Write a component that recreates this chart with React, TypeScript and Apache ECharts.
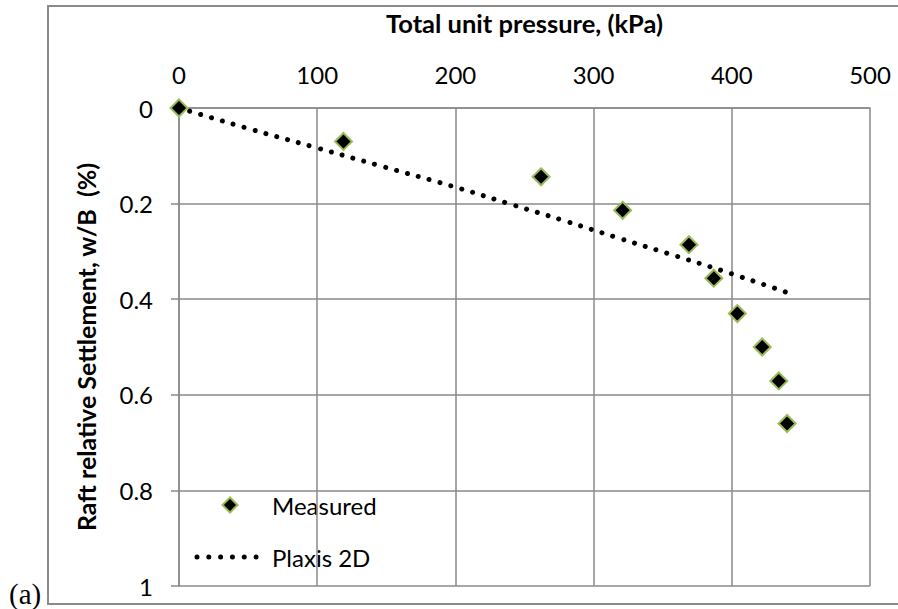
import React, { useEffect, useRef } from "react";
import * as echarts from "echarts";

const measuredPressure = [0, 119, 262, 321, 369, 387, 404, 422, 434, 440];
const measuredSettlement = [0, 0.07, 0.144, 0.214, 0.286, 0.356, 0.43, 0.5, 0.571, 0.66];

const plaxisPressure = [0, 49, 98, 148, 197, 238, 279, 319, 360, 400, 441];
const plaxisSettlement = [0, 0.042, 0.082, 0.123, 0.163, 0.1995, 0.236, 0.273, 0.31, 0.347, 0.387];

const xTitle = "Total unit pressure, (kPa)";
const yTitle = "Raft relative Settlement, w/B  (%)";
const seriesNames = ["Measured", "Plaxis 2D"];

const GRID = "#8a8a8a";
const FONT = "Lato";
const GREEN = "#9bbb59";

export default function App() {
  const ref = useRef<HTMLDivElement>(null);
  useEffect(() => {
    if (!ref.current) return;
    const chart = echarts.init(ref.current, undefined, { renderer: "svg" });
    chart.setOption({
      animation: false,
      backgroundColor: "#ffffff",
      textStyle: { fontFamily: FONT },
      grid: { left: 179, top: 108, right: 28, bottom: 23, containLabel: false },
      xAxis: {
        type: "value",
        position: "top",
        min: 0,
        max: 500,
        interval: 100,
        name: xTitle,
        nameLocation: "middle",
        nameGap: 72,
        nameTextStyle: { fontFamily: FONT, fontWeight: "bold", fontSize: 25.5, color: "#000" },
        axisLine: { show: true, lineStyle: { color: GRID, width: 1.5 } },
        axisTick: { show: false },
        axisLabel: { margin: 22, fontFamily: FONT, fontSize: 24, color: "#000" },
        splitLine: { show: true, lineStyle: { color: GRID, width: 1.5 } },
      },
      yAxis: {
        type: "value",
        inverse: true,
        min: 0,
        max: 1,
        interval: 0.2,
        name: yTitle,
        nameLocation: "middle",
        nameGap: 81,
        nameRotate: 90,
        nameTextStyle: { fontFamily: FONT, fontWeight: "bold", fontSize: 25, color: "#000" },
        axisLine: { show: true, lineStyle: { color: GRID, width: 1.5 } },
        axisTick: { show: true, length: 8, inside: false, lineStyle: { color: GRID, width: 1.5 } },
        axisLabel: { margin: 26, fontFamily: FONT, fontSize: 24, color: "#000" },
        splitLine: { show: true, lineStyle: { color: GRID, width: 1.5 } },
      },
      series: [
        {
          name: seriesNames[1],
          type: "line",
          data: plaxisPressure.map((p, i) => [p, plaxisSettlement[i]]),
          showSymbol: false,
          symbol: "none",
          smooth: true,
          lineStyle: { color: "#000", width: 5, type: [0.01, 11.3], cap: "round" },
          itemStyle: { color: "#000" },
          z: 2,
        },
        {
          name: seriesNames[0],
          type: "scatter",
          data: measuredPressure.map((p, i) => [p, measuredSettlement[i]]),
          symbol: "diamond",
          symbolSize: 17,
          itemStyle: { color: "#000", borderColor: GREEN, borderWidth: 2, opacity: 1 },
          z: 3,
        },
      ],
      graphic: [
        {
          type: "rect",
          shape: { x: 48, y: 6, width: 900, height: 598 },
          style: { fill: "none", stroke: GRID, lineWidth: 2 },
          silent: true,
        },
        {
          type: "text",
          x: 9,
          y: 594,
          style: {
            text: "(a)",
            font: '29px "Liberation Serif", serif',
            fill: "#000",
            verticalAlign: "middle",
          },
        },
        {
          type: "polygon",
          shape: { points: [[230, 497.5], [237.5, 505], [230, 512.5], [222.5, 505]] },
          style: { fill: "#000", stroke: GREEN, lineWidth: 2 },
        },
        {
          type: "text",
          x: 272,
          y: 505,
          style: { text: seriesNames[0], font: `24px ${FONT}`, fill: "#000", verticalAlign: "middle" },
        },
        {
          type: "line",
          shape: { x1: 197, y1: 557, x2: 257, y2: 557 },
          style: { stroke: "#000", lineWidth: 5, lineDash: [0.01, 11.8], lineCap: "round" },
        },
        {
          type: "text",
          x: 272,
          y: 557,
          style: { text: seriesNames[1], font: `24px ${FONT}`, fill: "#000", verticalAlign: "middle" },
        },
      ],
    });
    return () => chart.dispose();
  }, []);
  return (
    <div
      ref={ref}
      style={{ position: "absolute", left: 0, top: 0, width: 898, height: 609 }}
    />
  );
}
